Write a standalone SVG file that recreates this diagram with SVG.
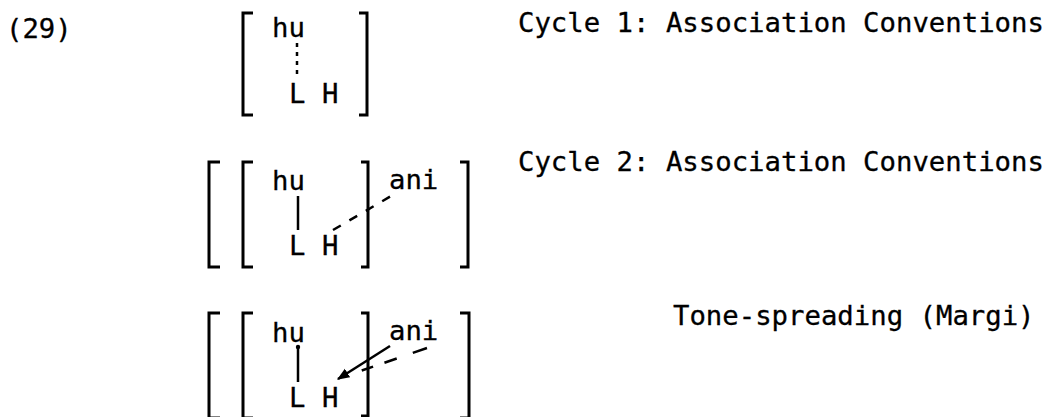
<svg xmlns="http://www.w3.org/2000/svg" width="1062" height="417" viewBox="0 0 1062 417">
<defs>
<style>
text{font-family:"DejaVu Sans Mono","Liberation Mono",monospace;font-size:27.3px;fill:#000;stroke:#000;stroke-width:0.3}
.br{fill:none;stroke:#000;stroke-width:3}
.ln{fill:none;stroke:#000;stroke-width:2.5}
.dot{stroke-dasharray:4 5}
.dash{stroke-dasharray:9 10}
</style>
<marker id="ah" viewBox="0 0 10 10" refX="9" refY="5" markerWidth="5" markerHeight="5" orient="auto" markerUnits="strokeWidth">
<path d="M0,1 L10,5 L0,9 Z" fill="#000"/>
</marker>
</defs>
<rect width="1062" height="417" fill="#fff"/>
<g id="example-number"><text x="6" y="38">(29)</text></g>

<g id="row1">
<path class="br" d="M253,13 H243 V115 H253"/>
<path class="br" d="M359,13 H367 V115 H359"/>
<text x="272" y="37">hu</text>
<text x="289" y="103">L</text>
<text x="322" y="103">H</text>
</g>
<g id="label1"><text x="518" y="32">Cycle 1: Association Conventions</text></g>

<g id="row2">
<path class="br" d="M220,162 H209 V267 H220"/>
<path class="br" d="M253,162 H243 V267 H253"/>
<path class="br" d="M361,162 H368 V267 H361"/>
<path class="br" d="M460,162 H468 V267 H460"/>
<text x="272" y="190">hu</text>
<text x="389" y="189">ani</text>
<text x="289" y="255">L</text>
<text x="322" y="255">H</text>
</g>
<g id="label2"><text x="518" y="171">Cycle 2: Association Conventions</text></g>

<g id="row3">
<path class="br" d="M220,313 H209 V418 H220"/>
<path class="br" d="M253,313 H243 V418 H253"/>
<path class="br" d="M361,313 H368 V416 H361"/>
<path class="br" d="M460,313 H469 V418 H460"/>
<text x="272" y="342">hu</text>
<text x="389" y="340">ani</text>
<text x="289" y="407">L</text>
<text x="322" y="407">H</text>
</g>
<g id="label3"><text x="673" y="325">Tone-spreading (Margi)</text></g>

<g id="connectors">
<line class="ln dot" x1="297" y1="43" x2="297" y2="79"/>
<line class="ln" x1="298" y1="196" x2="298" y2="230"/>
<line class="ln dash" x1="333" y1="230" x2="398" y2="192"/>
<circle cx="298" cy="347" r="2.2" fill="#000"/>
<line class="ln" x1="298" y1="347" x2="298" y2="382"/>
<line class="ln" x1="390" y1="346" x2="338" y2="379" marker-end="url(#ah)"/>
<line class="ln" x1="340" y1="378" x2="430" y2="347" stroke-dasharray="0 23 12 12 13 17 15 10"/>
</g>
</svg>
